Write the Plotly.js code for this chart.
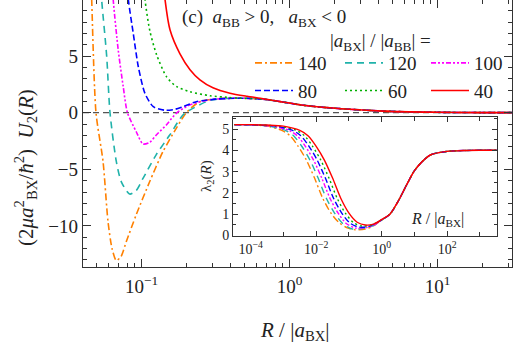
<!DOCTYPE html>
<html><head><meta charset="utf-8">
<script src="https://cdn.plot.ly/plotly-3.0.1.min.js"></script>
<style>html,body{margin:0;padding:0;background:#fff}</style>
</head><body><div id="chart" style="width:518px;height:349px"></div>
<script>
// ---- data ----
const seriesNames = ['140', '120', '100', '80', '60', '40'];

// main panel: R / |a_BX| and U2(R)
const r140 = [0.0451, 0.0461, 0.0493, 0.0550, 0.0594, 0.0633, 0.0676, 0.0727, 0.0789, 0.0922, 0.1135, 0.1396, 0.1717, 0.2009, 0.2472, 0.3555];
const u140 = [14, 10, 0, -4.3, -9.6, -12.0, -13.05, -12.7, -11.4, -9.0, -6.1, -3.44, -1.38, 0, 0.97, 1.27];
const r120 = [0.0512, 0.0538, 0.0582, 0.0613, 0.0676, 0.0731, 0.0832, 0.0918, 0.1024, 0.1259, 0.1552, 0.1905, 0.2228, 0.29, 0.36];
const u120 = [14, 10, 5.0, 0, -4.3, -6.1, -7.18, -6.9, -5.8, -3.7, -1.97, -0.2, 0.39, 1.1, 1.25];
const r100 = [0.0615, 0.0644, 0.0697, 0.0753, 0.0804, 0.0922, 0.1024, 0.114, 0.1259, 0.1472, 0.1717, 0.2118, 0.29, 0.36];
const u100 = [14, 10, 5.5, 2.3, 0, -1.68, -2.76, -2.6, -1.97, -1.08, -0.05, 0.68, 1.15, 1.25];
const r80 = [0.0767, 0.0815, 0.0880, 0.0952, 0.1056, 0.1202, 0.1442, 0.1683, 0.1905, 0.2344, 0.3197];
const u80 = [14, 10, 7.0, 4.06, 1.7, 0.53, 0.22, 0.3, 0.53, 0.97, 1.2];
const r60 = [0.1, 0.1056, 0.114, 0.1267, 0.148, 0.173, 0.2128, 0.29, 0.38];
const u60 = [14, 10, 7.2, 5.1, 3.15, 2.3, 1.85, 1.5, 1.36];
const r40 = [0.1355, 0.1442, 0.156, 0.182, 0.2128, 0.2483, 0.304, 0.396, 0.516, 0.662];
const u40 = [14, 10, 7.3, 5.2, 3.8, 2.9, 2.2, 1.72, 1.45, 1.24];
// shared large-R tail (all curves coincide)
const tailR = [0.45, 0.55, 0.66, 0.8, 1.0, 1.2, 1.6, 2.56, 4.3, 6.5, 10, 20, 32];
const tailU = [1.28, 1.26, 1.2, 1.05, 0.85, 0.68, 0.5, 0.3, 0.14, 0.07, 0.035, 0.01, 0.004];

// inset: log10(R/|a_BX|) and lambda2(R)
const lg140 = [-4.5, -4, -3.5, -3.05, -2.8, -2.55, -2.3, -2.05, -1.8, -1.55, -1.3, -1.05, -0.8, -0.5, -0.25, 0];
const lam140 = [5.22, 5.21, 5.15, 4.95, 4.7, 4.2, 3.55, 2.7, 1.75, 1.05, 0.6, 0.35, 0.26, 0.3, 0.45, 0.72];
const lg120 = [-4.5, -4, -3.5, -2.94, -2.69, -2.44, -2.19, -1.94, -1.69, -1.44, -1.19, -0.9, -0.6, -0.25, 0];
const lam120 = [5.22, 5.21, 5.16, 4.95, 4.7, 4.2, 3.55, 2.7, 1.75, 1.05, 0.56, 0.3, 0.32, 0.46, 0.72];
const lg100 = [-4.5, -4, -3.5, -3.33, -2.83, -2.58, -2.33, -2.08, -1.83, -1.58, -1.33, -1.08, -0.8, -0.5, -0.25, 0];
const lam100 = [5.22, 5.21, 5.17, 5.15, 4.95, 4.7, 4.2, 3.55, 2.7, 1.75, 1.05, 0.56, 0.34, 0.36, 0.47, 0.73];
const lg80 = [-4.5, -4, -3.5, -3.22, -2.72, -2.47, -2.22, -1.97, -1.72, -1.47, -1.22, -0.97, -0.7, -0.4, 0];
const lam80 = [5.22, 5.21, 5.18, 5.15, 4.95, 4.7, 4.2, 3.55, 2.7, 1.75, 1.05, 0.58, 0.39, 0.42, 0.73];
const lg60 = [-4.5, -4, -3.5, -3.11, -2.61, -2.36, -2.11, -1.86, -1.61, -1.36, -1.11, -0.86, -0.6, -0.3, 0];
const lam60 = [5.22, 5.22, 5.19, 5.15, 4.95, 4.7, 4.2, 3.55, 2.7, 1.75, 1.05, 0.6, 0.44, 0.5, 0.74];
const lg40 = [-4.5, -4, -3.5, -3, -2.5, -2.25, -2, -1.75, -1.5, -1.25, -1, -0.75, -0.5, -0.25, 0];
const lam40 = [5.22, 5.22, 5.2, 5.15, 4.95, 4.7, 4.2, 3.55, 2.7, 1.75, 1.05, 0.62, 0.49, 0.53, 0.75];
const insetTailLg = [0.25, 0.5, 0.75, 1, 1.25, 1.5, 2, 2.5, 3, 3.6];
const insetTailLam = [1.0, 1.6, 2.35, 3.05, 3.5, 3.8, 3.96, 4.0, 4.01, 4.01];

// tick labels
const mainXTickVals = [0.1, 1, 10];
const mainXTickText = ['10<sup>−1</sup>', '10<sup>0</sup>', '10<sup>1</sup>'];
const insetXTickVals = [1e-4, 1e-2, 1, 1e2];
const insetXTickText = ['10<sup>−4</sup>', '10<sup>−2</sup>', '10<sup>0</sup>', '10<sup>2</sup>'];

// ---- styles ----
const colors = ['#ff8000', '#20b2aa', '#ff00ff', '#0000ff', '#00b000', '#ff0000'];
const dashes = ['7px,3px,2px,3px', '7px,5px', '5px,2px,2px,2px,2px,2px', '6px,3px', '2px,3px', 'solid'];
const legendIds = ['legend', 'legend2', 'legend3', 'legend', 'legend2', 'legend3'];
const FONT = 'Liberation Serif';

const mainR = [r140, r120, r100, r80, r60, r40];
const mainU = [u140, u120, u100, u80, u60, u40];
const insLg = [lg140, lg120, lg100, lg80, lg60, lg40];
const insLam = [lam140, lam120, lam100, lam80, lam60, lam40];

const traces = [];
for (let i = 0; i < 6; i++) {
  const last = mainR[i][mainR[i].length - 1];
  const xs = mainR[i].slice(), ys = mainU[i].slice();
  tailR.forEach((r, k) => { if (r > last) { xs.push(r); ys.push(tailU[k]); } });
  traces.push({
    x: xs, y: ys, type: 'scatter', mode: 'lines', name: seriesNames[i], legend: legendIds[i],
    line: { color: colors[i], dash: dashes[i], width: 1.6, shape: 'spline', smoothing: 0.7 },
    xaxis: 'x', yaxis: 'y'
  });
}
for (let i = 0; i < 6; i++) {
  const lgs = insLg[i].concat(insetTailLg);
  const lams = insLam[i].concat(insetTailLam);
  traces.push({
    x: lgs.map(v => Math.pow(10, v)), y: lams, type: 'scatter', mode: 'lines', showlegend: false,
    line: { color: colors[i], dash: dashes[i], width: 1.4, shape: 'spline', smoothing: 0.8 },
    xaxis: 'x2', yaxis: 'y2'
  });
}

const L = 83, R = 512, T = 0, B = 267, W = 518, H = 349;
const px = x => (x - L) / (R - L);
const py = y => (B - y) / (B - T);

const axCommon = {
  ticks: 'inside', mirror: 'allticks', showline: true, linecolor: '#333', linewidth: 1.2,
  tickcolor: '#333', showgrid: false, zeroline: false
};
const legendBase = {
  orientation: 'v', xanchor: 'left', yanchor: 'top', itemwidth: 38, bgcolor: 'rgba(0,0,0,0)',
  borderwidth: 0, tracegroupgap: 0, font: { family: FONT, size: 19, color: '#222' }
};

const layout = {
  width: W, height: H,
  margin: { l: L, r: W - R, t: T, b: H - B, pad: 0 },
  paper_bgcolor: '#fff', plot_bgcolor: '#fff',
  font: { family: FONT, color: '#222' },
  showlegend: true,
  legend: Object.assign({}, legendBase, { x: px(250), y: py(44) }),
  legend2: Object.assign({}, legendBase, { x: px(340), y: py(44) }),
  legend3: Object.assign({}, legendBase, { x: px(426), y: py(44) }),
  xaxis: Object.assign({}, axCommon, {
    type: 'log', range: [-1.395, 1.503], domain: [0, 1], anchor: 'y',
    tickmode: 'array', tickvals: mainXTickVals, ticktext: mainXTickText, ticklen: 8,
    ticklabelstandoff: 2,
    tickfont: { family: FONT, size: 19, color: '#222' },
    minor: { ticks: 'inside', ticklen: 4, dtick: 'D1', tickcolor: '#333', showgrid: false }
  }),
  yaxis: Object.assign({}, axCommon, {
    range: [-13.62, 9.95], domain: [0, 1], anchor: 'x', dtick: 5, tick0: 0, ticklen: 8,
    tickfont: { family: FONT, size: 19, color: '#222' },
    minor: { ticks: 'inside', ticklen: 4, dtick: 1, tickcolor: '#333', showgrid: false }
  }),
  xaxis2: Object.assign({}, axCommon, {
    type: 'log', range: [-4.53, 3.51], domain: [px(233.3), px(496.7)], anchor: 'y2',
    tickmode: 'array', tickvals: insetXTickVals, ticktext: insetXTickText, ticklen: 5,
    tickfont: { family: FONT, size: 14, color: '#222' },
    minor: { ticks: 'inside', ticklen: 4, dtick: 1, tickcolor: '#333', showgrid: false }
  }),
  yaxis2: Object.assign({}, axCommon, {
    range: [-0.03, 5.58], domain: [py(236), py(117)], anchor: 'x2', dtick: 1, tick0: 0, ticklen: 5,
    tickfont: { family: FONT, size: 14, color: '#222' },
    minor: { ticks: 'inside', ticklen: 3, dtick: 0.5, tickcolor: '#333', showgrid: false }
  }),
  shapes: [{
    type: 'line', xref: 'paper', yref: 'y', x0: 0, x1: 1, y0: 0, y1: 0, layer: 'below',
    line: { color: '#555', width: 1.2, dash: '6px,4px' }
  }],
  annotations: [
    { xref: 'paper', yref: 'paper', x: px(180), y: py(18), xanchor: 'left', yanchor: 'middle', showarrow: false,
      text: '(c)  <i>a</i><sub>BB</sub> > 0,   <i>a</i><sub>BX</sub> < 0', font: { family: FONT, size: 19, color: '#222' } },
    { xref: 'paper', yref: 'paper', x: px(380), y: py(42), xanchor: 'center', yanchor: 'middle', showarrow: false,
      text: '|<i>a</i><sub>BX</sub>| / |<i>a</i><sub>BB</sub>| =', font: { family: FONT, size: 19, color: '#222' } },
    { xref: 'paper', yref: 'paper', x: px(25), y: py(168), xanchor: 'center', yanchor: 'middle', showarrow: false, textangle: -90,
      text: '(2<i>μa</i><sup>2</sup><sub>BX</sub>/<i>ħ</i><sup>2</sup>)  <i>U</i><sub>2</sub>(<i>R</i>)', font: { family: FONT, size: 21, color: '#222' } },
    { xref: 'paper', yref: 'paper', x: px(295), y: py(331), xanchor: 'center', yanchor: 'middle', showarrow: false,
      text: '<i>R</i> / |<i>a</i><sub>BX</sub>|', font: { family: FONT, size: 21, color: '#222' } },
    { xref: 'paper', yref: 'paper', x: px(207), y: py(176), xanchor: 'center', yanchor: 'middle', showarrow: false, textangle: -90,
      text: 'λ<sub>2</sub>(<i>R</i>)', font: { family: FONT, size: 15, color: '#222' } },
    { xref: 'paper', yref: 'paper', x: px(437), y: py(219), xanchor: 'center', yanchor: 'middle', showarrow: false,
      text: '<i>R</i> / |<i>a</i><sub>BX</sub>|', font: { family: FONT, size: 16, color: '#222' } }
  ]
};

Plotly.newPlot('chart', traces, layout, { displayModeBar: false, staticPlot: true });
</script>
</body></html>
